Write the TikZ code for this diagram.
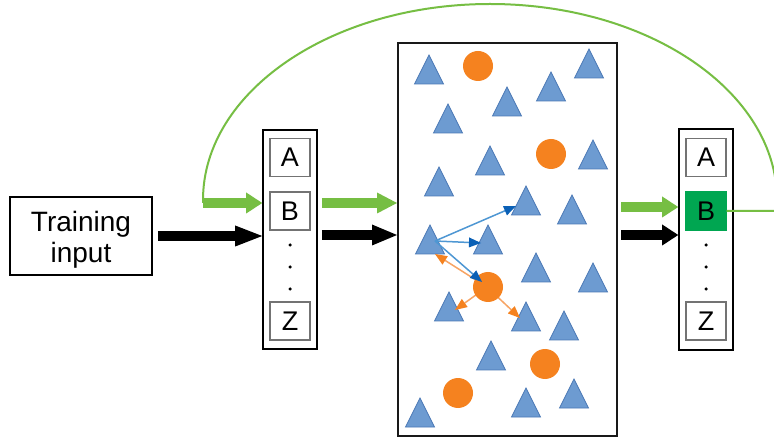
\documentclass[tikz,border=0pt]{standalone}
\usepackage{fontspec}
\setmainfont{Liberation Sans}
\usetikzlibrary{arrows.meta}
\definecolor{gr}{HTML}{76BE43}
\definecolor{bgr}{HTML}{00A651}
\definecolor{trifill}{HTML}{6D9BD1}
\definecolor{triline}{HTML}{4A78B5}
\definecolor{orng}{HTML}{F5821F}
\definecolor{orline}{HTML}{F7A464}
\definecolor{blline}{HTML}{4E97D3}
\definecolor{blhead}{HTML}{0A60B6}
\begin{document}
\begin{tikzpicture}[x=1pt,y=-1pt,
  box/.style={draw=black,line width=1.6pt,inner sep=0pt},
  letterbox/.style={draw=black!55,line width=1.2pt,minimum width=40pt,minimum height=38pt,inner sep=0pt,font=\fontsize{27}{30}\selectfont},
  dotnode/.style={circle,fill=black,inner sep=0pt,minimum size=3.5pt},
  fat/.style={line width=10pt,-{Triangle[length=#1,width=21pt,line width=0pt]}},
  tri/.style={fill=trifill,draw=triline,line width=0.8pt,line join=miter},
  blob/.style={fill=orng},
  bluearrow/.style={blline,line width=1.5pt,-{Triangle[length=12pt,width=10pt,color=blhead,line width=0pt]}},
  orangearrow/.style={orline,line width=1.5pt,-{Triangle[length=12pt,width=10pt,color=orng,line width=0pt]}},
  loop/.style={gr,line width=2pt}]
\clip (0,0) rectangle (774,438);
\fill[white] (0,0) rectangle (774,438);

% training input
\node[box,minimum width=142pt,minimum height=78pt] (train) at (81,236) {};
\node[font=\fontsize{28}{31}\selectfont,align=center,inner sep=0pt] (traintext) at (81,240) {Training\\input};

% left column
\node[box,minimum width=54pt,minimum height=219pt] (lcol) at (290,239.5) {};
\node[letterbox] (lA) at (290,157.5) {A};
\node[letterbox] (lB) at (290,211) {B};
\node[dotnode] (ld1) at (290,245) {};
\node[dotnode] (ld2) at (290,267) {};
\node[dotnode] (ld3) at (290,289) {};
\node[letterbox] (lZ) at (290,321) {Z};

% middle box
\node[box,line width=2pt,draw=black!90,minimum width=219pt,minimum height=393pt] (mid) at (507.5,239.5) {};

% right column
\node[box,minimum width=54pt,minimum height=221pt] (rcol) at (706,239.5) {};
\node[letterbox] (rA) at (706,157.5) {A};
\node[letterbox,fill=bgr,draw=bgr] (rB) at (706,211) {B};
\node[dotnode] (rd1) at (706,245) {};
\node[dotnode] (rd2) at (706,267) {};
\node[dotnode] (rd3) at (706,289) {};
\node[letterbox] (rZ) at (706,321) {Z};

% triangles
\foreach \tx/\ty in {429/55,589/49,551/72,507/87,448/104,593/140,490/146,439/167,526/186,572/195,430/225,488/225,536/253,593/263,449/292,526/302,564/311,491/341,574/379,526/388,420/398}
  \filldraw[tri] (\tx,\ty) -- ++(-14.5,29) -- ++(29,0) -- cycle;

% orange arrows
\coordinate (oc) at (487,287);
\coordinate (o1) at (435,254);
\coordinate (o2) at (455,310);
\coordinate (o3) at (520,318);
\draw[orangearrow] (oc) -- (o1);
\draw[orangearrow] (oc) -- (o2);
\draw[orangearrow] (oc) -- (o3);

% circles
\foreach \cx/\cy in {478/66,551/154,488/287,545/364,458/393}
  \fill[blob] (\cx,\cy) circle[radius=15pt];

% blue arrows
\coordinate (bs) at (435,241);
\coordinate (b1) at (516,206);
\coordinate (b2) at (481,243);
\coordinate (b3) at (482,282);
\draw[bluearrow] (bs) -- (b1);
\draw[bluearrow] (bs) -- (b2);
\draw[bluearrow] (bs) -- (b3);

% big arrows
\coordinate (gstart) at (203,203);
\draw[fat=27pt,black] ([xshift=5pt]train.east) -- (train.east -| lcol.west);
\draw[fat=16pt,gr] (gstart) -- (gstart -| lcol.west);
\draw[fat=20pt,gr] ([xshift=4pt]lcol.east |- gstart) -- (mid.west |- gstart);
\draw[fat=25pt,black] ([xshift=4pt]lcol.east |- 0,235) -- (mid.west |- 0,235);
\draw[fat=16pt,gr] ([xshift=3pt]mid.east |- 0,207) -- (rcol.west |- 0,207);
\draw[fat=16pt,black] ([xshift=3pt]mid.east |- 0,235) -- (rcol.west |- 0,235);

% feedback loop
\draw[loop] (rB.east) -- (777,211) -- (777,200)
  arc[start angle=0,end angle=180,x radius=287pt,y radius=196pt] -- (gstart);
\end{tikzpicture}
\end{document}
